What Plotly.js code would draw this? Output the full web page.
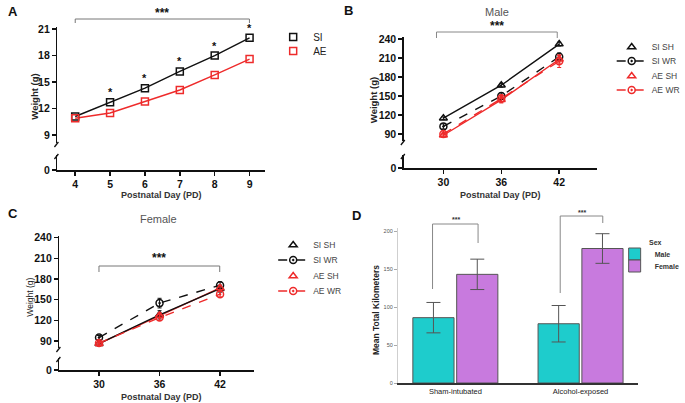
<!DOCTYPE html>
<html>
<head>
<meta charset="utf-8">
<script src="https://cdn.plot.ly/plotly-3.0.1.min.js"></script>
<style>html,body{margin:0;padding:0;background:#fff;}#chart{width:685px;height:403px;}</style>
</head>
<body>
<div id="chart"></div>
<script>
// ---------- DATA ----------
// Panel A: pup weights PD4-PD9
const daysA = [4, 5, 6, 7, 8, 9];
const weightA_SI = [11.1, 12.7, 14.3, 16.2, 18.0, 20.0];
const weightA_AE = [10.9, 11.5, 12.8, 14.1, 15.8, 17.6];
const sigA = [false, true, true, true, true, true];

// Panels B & C: adolescent weights
const daysBC = [30, 36, 42];
const maleSISH = [115, 167, 232];
const maleSIWR = [102, 150, 212];
const maleAESH = [88, 144, 208];
const maleAEWR = [90, 146, 205];
const maleSISHerr = [2, 3, 3];
const maleSIWRerr = [4, 5, 6];
const maleAESHerr = [3, 5, 6];
const maleAEWRerr = [3, 6, 10];

const femaleSISH = [86, 128, 166];
const femaleSIWR = [95, 145, 171];
const femaleAESH = [86, 127, 167];
const femaleAEWR = [87, 124, 158];
const femaleSISHerr = [2, 6, 5];
const femaleSIWRerr = [3, 7, 5];
const femaleAESHerr = [2, 4, 4];
const femaleAEWRerr = [3, 4, 4];

// Panel D: wheel running
const groupsD = ['Sham-intubated', 'Alcohol-exposed'];
const kmMale = [86, 78];
const kmFemale = [143, 177];
const kmMaleErr = [20, 24];
const kmFemaleErr = [20, 19.5];

// ---------- STYLE ----------
const W = 685, H = 403;
const px = v => v / W;
const py = v => 1 - v / H;
const F = 'Liberation Sans, Arial, sans-serif';
const RED = '#ee2b2b';
const BLK = '#111111';
const TEAL = '#1ecccc';
const PURPLE = '#c87ade';

const tickFont = {family: F, size: 10.5, weight: 'bold', color: '#111'};
function axBase(extra) {
  return Object.assign({
    showgrid: false, zeroline: false, showline: true, linecolor: '#111', linewidth: 1.5,
    ticks: 'outside', ticklen: 4, tickwidth: 1.5, tickcolor: '#111',
    tickfont: tickFont, fixedrange: true
  }, extra);
}

const traces = [];
function lineTrace(x, y, color, dash, xa, ya) {
  return {x: x, y: y, xaxis: xa, yaxis: ya, type: 'scatter', mode: 'lines', cliponaxis: true,
    line: {color: color, width: 1.4, dash: dash}, showlegend: false, hoverinfo: 'skip'};
}
function markTrace(name, x, y, err, color, symbol, xa, ya, leg, mode, dash) {
  const t = {name: name, x: x, y: y, xaxis: xa, yaxis: ya, type: 'scatter', mode: mode || 'markers',
    marker: {symbol: symbol, size: 7, color: color, line: {color: color, width: 1.5}},
    legend: leg, showlegend: true};
  if (mode && mode.indexOf('lines') >= 0) t.line = {color: color, width: 1.4, dash: dash || 'solid'};
  if (err) t.error_y = {type: 'data', array: err, visible: true, color: color, thickness: 1, width: 2};
  return t;
}

// Panel A (upper segment + same data on the broken lower segment, clipped out of view)
traces.push(lineTrace(daysA, weightA_SI, BLK, 'solid', 'x', 'y2'));
traces.push(lineTrace(daysA, weightA_SI, BLK, 'solid', 'x', 'y'));
traces.push(lineTrace(daysA, weightA_AE, RED, 'solid', 'x', 'y'));
traces.push(markTrace('SI', daysA, weightA_SI, null, BLK, 'square-open', 'x', 'y', 'legend'));
traces.push(markTrace('AE', daysA, weightA_AE, null, RED, 'square-open', 'x', 'y', 'legend2'));

// Panel B (male)
traces.push(lineTrace(daysBC, maleSISH, BLK, 'solid', 'x2', 'y4'));
traces.push(lineTrace(daysBC, maleSISH, BLK, 'solid', 'x2', 'y3'));
traces.push(lineTrace(daysBC, maleAESH, RED, 'solid', 'x2', 'y3'));
traces.push(markTrace('SI SH', daysBC, maleSISH, maleSISHerr, BLK, 'triangle-up-open', 'x2', 'y3', 'legend3'));
traces.push(markTrace('SI WR', daysBC, maleSIWR, maleSIWRerr, BLK, 'circle-open-dot', 'x2', 'y3', 'legend4', 'lines+markers', 'dash'));
traces.push(markTrace('AE SH', daysBC, maleAESH, maleAESHerr, RED, 'triangle-up-open', 'x2', 'y3', 'legend5'));
traces.push(markTrace('AE WR', daysBC, maleAEWR, maleAEWRerr, RED, 'circle-open-dot', 'x2', 'y3', 'legend6', 'lines+markers', 'dash'));

// Panel C (female)
traces.push(lineTrace(daysBC, femaleSISH, BLK, 'solid', 'x3', 'y6'));
traces.push(lineTrace(daysBC, femaleAESH, RED, 'solid', 'x3', 'y5'));
traces.push(lineTrace(daysBC, femaleSISH, BLK, 'solid', 'x3', 'y5'));
traces.push(markTrace('SI SH', daysBC, femaleSISH, femaleSISHerr, BLK, 'triangle-up-open', 'x3', 'y5', 'legend7'));
traces.push(markTrace('SI WR', daysBC, femaleSIWR, femaleSIWRerr, BLK, 'circle-open-dot', 'x3', 'y5', 'legend8', 'lines+markers', 'dash'));
traces.push(markTrace('AE SH', daysBC, femaleAESH, femaleAESHerr, RED, 'triangle-up-open', 'x3', 'y5', 'legend9'));
traces.push(markTrace('AE WR', daysBC, femaleAEWR, femaleAEWRerr, RED, 'circle-open-dot', 'x3', 'y5', 'legend10', 'lines+markers', 'dash'));

// Panel D
traces.push({type: 'bar', name: 'Male', x: groupsD, y: kmMale, xaxis: 'x4', yaxis: 'y7',
  marker: {color: TEAL, line: {color: '#555', width: 1}},
  error_y: {type: 'data', array: kmMaleErr, color: '#555', thickness: 1, width: 7},
  legend: 'legend11'});
traces.push({type: 'bar', name: 'Female', x: groupsD, y: kmFemale, xaxis: 'x4', yaxis: 'y7',
  marker: {color: PURPLE, line: {color: '#555', width: 1}},
  error_y: {type: 'data', array: kmFemaleErr, color: '#555', thickness: 1, width: 7},
  legend: 'legend12'});

// ---------- LAYOUT ----------
function leg(xPx, yPx, size, color, weight) {
  return {x: px(xPx), y: py(yPx), xanchor: 'left', yanchor: 'middle', bgcolor: 'rgba(0,0,0,0)',
    borderwidth: 0, font: {family: F, size: size, color: color, weight: weight || 'normal'},
    itemclick: false, itemdoubleclick: false};
}

const shapes = [];
function seg(x0, y0, x1, y1, color, w) {
  shapes.push({type: 'line', xref: 'paper', yref: 'paper', x0: px(x0), y0: py(y0), x1: px(x1), y1: py(y1),
    line: {color: color, width: w || 1}});
}
function bracket(xl, xr, yTop, yl, yr, color) {
  seg(xl, yl, xl, yTop, color); seg(xl, yTop, xr, yTop, color); seg(xr, yTop, xr, yr, color);
}
// significance brackets
bracket(76, 252, 19, 23, 23, '#777');
bracket(441, 563, 32, 38, 38, '#888');
bracket(100, 222, 266, 272, 272, '#777');
bracket(437, 483, 224, 289, 243, '#888');
bracket(566, 609, 216, 293, 223, '#888');
// axis breaks
function brk(x, yTop, yBot) {
  seg(x - 3, yTop + 4, x + 1, yTop - 1, '#111', 1.3);
  seg(x - 3, yBot + 4, x + 1, yBot - 1, '#111', 1.3);
}
brk(58, 143, 155);
brk(408, 141, 155);
brk(60, 348, 358);

const ann = [];
function txt(text, xPx, yPx, size, opts) {
  ann.push(Object.assign({text: text, xref: 'paper', yref: 'paper', x: px(xPx), y: py(yPx),
    xanchor: 'center', yanchor: 'middle', showarrow: false,
    font: {family: F, size: size, color: '#111'}}, opts || {}));
}
const bold = (size, color) => ({family: F, size: size, weight: 'bold', color: color || '#111'});
// panel letters
txt('A', 13, 11, 13, {font: bold(13)});
txt('B', 352, 10, 13, {font: bold(13)});
txt('C', 13, 213, 13, {font: bold(13)});
txt('D', 360, 215, 13, {font: bold(13)});
// titles & stars
txt('***', 164, 13, 12, {font: bold(12)});
txt('Male', 502, 12, 11, {font: {family: F, size: 11, color: '#555'}});
txt('***', 502, 26, 12, {font: bold(12)});
txt('Female', 160, 219, 11, {font: {family: F, size: 11, color: '#555'}});
txt('***', 161, 258, 12, {font: bold(12)});
txt('***', 461, 219, 7, {font: bold(7, '#333')});
txt('***', 588, 212, 7, {font: bold(7, '#333')});
// axis titles
txt('Weight (g)', 35, 97, 9.5, {font: bold(9.5, '#222'), textangle: -90});
txt('Postnatal Day (PD)', 163, 195, 9, {font: bold(9, '#333')});
txt('Weight (g)', 377, 100, 9.5, {font: bold(9.5, '#222'), textangle: -90});
txt('Postnatal Day (PD)', 506, 195, 9, {font: bold(9, '#333')});
txt('Weight (g)', 30, 297, 8.5, {font: {family: F, size: 8.5, color: '#222'}, textangle: -90});
txt('Postnatal Day (PD)', 163, 397, 9, {font: bold(9, '#333')});
txt('Mean Total Kilometers', 380, 310, 8.5, {font: bold(8.5, '#222'), textangle: -90});
txt('Sex', 662, 242, 7, {font: bold(7, '#333')});
// per-point significance stars (panel A)
daysA.forEach((d, i) => {
  if (sigA[i]) ann.push({text: '*', xref: 'x', yref: 'y', x: d, y: weightA_SI[i], yshift: 10,
    showarrow: false, font: bold(11)});
});

const layout = {
  width: W, height: H, margin: {l: 0, r: 0, t: 0, b: 0},
  paper_bgcolor: '#fff', plot_bgcolor: 'rgba(0,0,0,0)',
  font: {family: F, color: '#111'},
  showlegend: true, bargap: 0.3, bargroupgap: 0.06,
  // Panel A
  xaxis: axBase({domain: [px(58), px(268)], range: [3.49, 9.45], anchor: 'y2', tickvals: daysA}),
  yaxis: axBase({domain: [py(143), py(27)], range: [8.1, 21.23], anchor: 'x', tickvals: [9, 12, 15, 18, 21]}),
  yaxis2: axBase({domain: [py(170), py(155)], range: [0, 1.7], anchor: 'x', tickvals: [0]}),
  // Panel B
  xaxis2: axBase({domain: [px(408), px(603)], range: [25.9, 45.9], anchor: 'y4', tickvals: daysBC}),
  yaxis3: axBase({domain: [py(141), py(37)], range: [78.9, 243.2], anchor: 'x2', tickvals: [90, 120, 150, 180, 210, 240]}),
  yaxis4: axBase({domain: [py(168), py(155)], range: [0, 20.5], anchor: 'x2', tickvals: [0]}),
  // Panel C
  xaxis3: axBase({domain: [px(60), px(257)], range: [26.07, 45.4], anchor: 'y6', tickvals: daysBC}),
  yaxis5: axBase({domain: [py(348), py(236)], range: [79.8, 242.5], anchor: 'x3', tickvals: [90, 120, 150, 180, 210, 240]}),
  yaxis6: axBase({domain: [py(370), py(358)], range: [0, 17.4], anchor: 'x3', tickvals: [0]}),
  // Panel D
  xaxis4: {domain: [px(402), px(645)], range: [-0.459, 1.462], anchor: 'y7', type: 'category',
    showgrid: false, zeroline: false, showline: true, linecolor: '#333', linewidth: 1.5, ticks: '',
    tickfont: {family: F, size: 7.5, color: '#222'}, fixedrange: true},
  yaxis7: {domain: [py(383), py(228)], range: [0, 204], anchor: 'x4', showgrid: false, zeroline: false,
    showline: true, linecolor: '#cfcfcf', linewidth: 1, ticks: 'outside', ticklen: 3, tickcolor: '#aaa',
    tickvals: [0, 50, 100, 150, 200], tickfont: {family: F, size: 5.5, color: '#555'}, fixedrange: true},
  legend: leg(276, 37, 10, '#222'),
  legend2: leg(276, 51, 10, '#222'),
  legend3: leg(618, 47, 8.5, '#444'),
  legend4: leg(618, 61, 8.5, '#444'),
  legend5: leg(618, 76, 8.5, '#444'),
  legend6: leg(618, 90, 8.5, '#444'),
  legend7: leg(276, 245, 8.5, '#444'),
  legend8: leg(276, 260, 8.5, '#444'),
  legend9: leg(276, 276, 8.5, '#444'),
  legend10: leg(276, 291, 8.5, '#444'),
  legend11: leg(621, 254, 7, '#333', 'bold'),
  legend12: leg(621, 266, 7, '#333', 'bold'),
  shapes: shapes,
  annotations: ann
};

Plotly.newPlot('chart', traces, layout, {displayModeBar: false, staticPlot: true});
</script>
</body>
</html>
